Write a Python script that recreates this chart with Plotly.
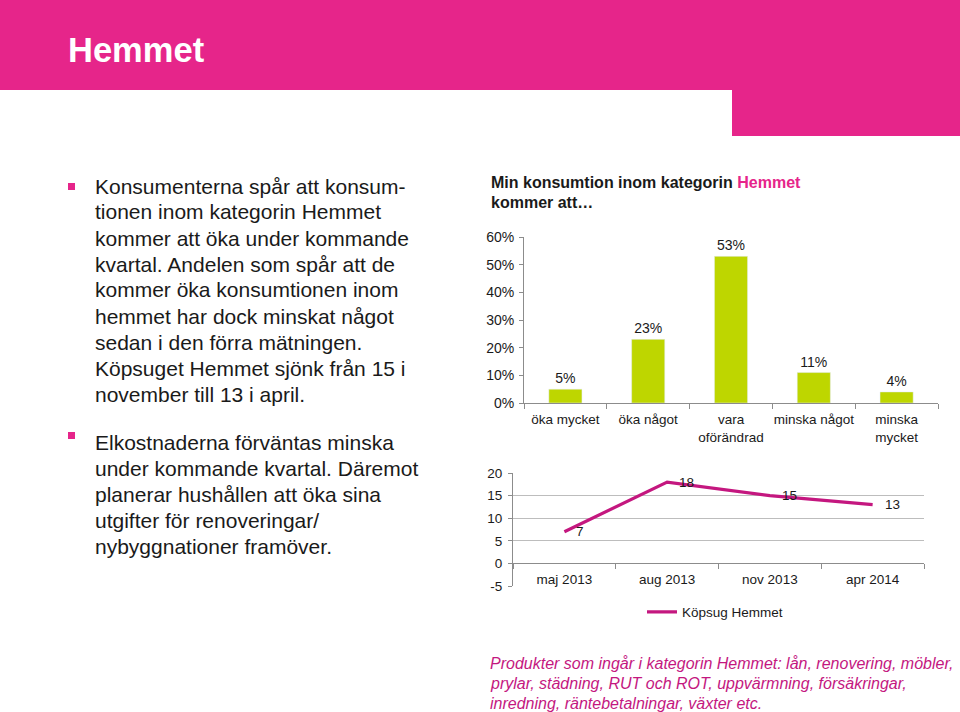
import plotly.graph_objects as go

# ---------------- data ----------------
bar_categories = ["öka mycket", "öka något", "vara<br>oförändrad", "minska något", "minska<br>mycket"]
bar_values = [5, 23, 53, 11, 4]
bar_tickvals = [0, 10, 20, 30, 40, 50, 60]
bar_ticktext = ["0%", "10%", "20%", "30%", "40%", "50%", "60%"]

line_periods = ["maj 2013", "aug 2013", "nov 2013", "apr 2014"]
line_values = [7, 18, 15, 13]
line_name = "Köpsug Hemmet"
line_tickvals = [-5, 0, 5, 10, 15, 20]
line_ticktext = ["-5", "0", "5", "10", "15", "20"]

page_title = "Hemmet"
bullet1 = ["Konsumenterna spår att konsum-", "tionen inom kategorin Hemmet",
           "kommer att öka under kommande", "kvartal. Andelen som spår att de",
           "kommer öka konsumtionen inom", "hemmet har dock minskat något",
           "sedan i den förra mätningen.", "Köpsuget Hemmet sjönk från 15 i",
           "november till 13 i april."]
bullet2 = ["Elkostnaderna förväntas minska", "under kommande kvartal. Däremot",
           "planerar hushållen att öka sina", "utgifter för renoveringar/",
           "nybyggnationer framöver."]
footnote = ["Produkter som ingår i kategorin Hemmet: lån, renovering, möbler,",
            "prylar, städning, RUT och ROT, uppvärmning, försäkringar,",
            "inredning, räntebetalningar, växter etc."]

# ---------------- style ----------------
W, H = 960, 712
PINK = "#E6258A"
MAGENTA = "#C4177F"
GREEN = "#BED600"
TXT = "#1a1a1a"
AX = "#8c8c8c"
GRID = "#bdbdbd"
FONT = "Liberation Sans, Arial, sans-serif"

def px(x):
    return x / W

def py(y):
    return 1 - y / H

fig = go.Figure()

# bar chart
fig.add_trace(go.Bar(
    x=bar_categories, y=bar_values, marker_color=GREEN,
    text=[f"{v}%" for v in bar_values], textposition="outside",
    textfont=dict(size=14, color=TXT, family=FONT), cliponaxis=False,
    showlegend=False, xaxis="x", yaxis="y", hoverinfo="skip"))

# line chart
fig.add_trace(go.Scatter(
    x=line_periods, y=line_values, mode="lines", name=line_name,
    line=dict(color=MAGENTA, width=3.2), xaxis="x2", yaxis="y2",
    showlegend=True, hoverinfo="skip"))

y2dom = [py(586), py(473)]
x_at_zero = y2dom[0] + (0 - (-5)) / 25 * (y2dom[1] - y2dom[0])

fig.update_layout(
    width=W, height=H, margin=dict(l=0, r=0, t=0, b=0, pad=0, autoexpand=False),
    paper_bgcolor="white", plot_bgcolor="rgba(0,0,0,0)",
    font=dict(family=FONT, color=TXT, size=13),
    bargap=0.6,
    xaxis=dict(domain=[px(524), px(938)], anchor="y", range=[-0.5, 4.5],
               showline=True, linecolor=AX, linewidth=1, ticks="outside", ticklen=5,
               tickcolor=AX, tickangle=0, tickson="boundaries", showgrid=False,
               tickfont=dict(size=13.5, color=TXT), ticklabelstandoff=4,
               automargin=False),
    yaxis=dict(domain=[py(403), py(237)], anchor="x", range=[0, 60],
               tickvals=bar_tickvals, ticktext=bar_ticktext, showline=True,
               linecolor=AX, ticks="outside", ticklen=4, tickcolor=AX,
               showgrid=False, zeroline=False, tickfont=dict(size=14, color=TXT),
               ticklabelstandoff=2, automargin=False),
    xaxis2=dict(domain=[px(513), px(924)], anchor="free", position=x_at_zero,
                range=[-0.5, 3.5], showline=True, linecolor=AX, ticks="outside",
                ticklen=5, tickcolor=AX, tickangle=0, tickson="boundaries",
                showgrid=False, tickfont=dict(size=13.5, color=TXT),
                ticklabelstandoff=3, automargin=False),
    yaxis2=dict(domain=y2dom, anchor="x2", range=[-5, 20], tickvals=line_tickvals,
                ticktext=line_ticktext,
                showline=True, linecolor=AX, ticks="outside", ticklen=4, tickcolor=AX,
                showgrid=True, gridcolor=GRID, gridwidth=1, zeroline=False,
                tickfont=dict(size=13.5, color=TXT), ticklabelstandoff=3,
                automargin=False),
    legend=dict(x=px(642), y=py(612), xanchor="left", yanchor="middle",
                orientation="h", font=dict(size=13.5, color=TXT),
                bgcolor="rgba(0,0,0,0)"),
)

shapes = [
    dict(type="rect", xref="paper", yref="paper", x0=0, x1=1, y0=py(90), y1=1,
         fillcolor=PINK, line_width=0, layer="below"),
    dict(type="rect", xref="paper", yref="paper", x0=px(732), x1=1, y0=py(136), y1=py(89),
         fillcolor=PINK, line_width=0, layer="below"),
    dict(type="rect", xref="paper", yref="paper", x0=px(68), x1=px(75), y0=py(190), y1=py(183),
         fillcolor=PINK, line_width=0),
    dict(type="rect", xref="paper", yref="paper", x0=px(68), x1=px(75), y0=py(439), y1=py(432),
         fillcolor=PINK, line_width=0),
]
fig.update_layout(shapes=shapes)

ann = []
ann.append(dict(text=f"<b>{page_title}</b>", x=px(66), y=py(50), xref="paper", yref="paper",
                xanchor="left", yanchor="middle", showarrow=False,
                font=dict(size=34.5, color="white", family=FONT)))
for start, lines in ((186, bullet1), (442, bullet2)):
    for i, line in enumerate(lines):
        ann.append(dict(text=line, x=px(93), y=py(start + 26 * i), xref="paper",
                        yref="paper", xanchor="left", yanchor="middle", align="left",
                        showarrow=False, font=dict(size=21, color=TXT, family=FONT)))
ann.append(dict(text=f"<b>Min konsumtion inom kategorin <span style='color:{PINK}'>Hemmet</span></b>",
                x=px(489), y=py(182), xref="paper", yref="paper",
                xanchor="left", yanchor="middle", align="left", showarrow=False,
                font=dict(size=16, color=TXT, family=FONT)))
ann.append(dict(text="<b>kommer att…</b>",
                x=px(489), y=py(202), xref="paper", yref="paper",
                xanchor="left", yanchor="middle", align="left", showarrow=False,
                font=dict(size=16, color=TXT, family=FONT)))
for i, line in enumerate(footnote):
    ann.append(dict(text=f"<i>{line}</i>", x=px(488), y=py(663 + 20 * i),
                    xref="paper", yref="paper", xanchor="left", yanchor="middle",
                    align="left", showarrow=False,
                    font=dict(size=16, color=MAGENTA, family=FONT)))
for cat, v in zip(line_periods, line_values):
    ann.append(dict(text=str(v), x=cat, y=v, xref="x2", yref="y2", xanchor="left",
                    yanchor="middle", xshift=10, showarrow=False,
                    font=dict(size=13.5, color=TXT, family=FONT)))
fig.update_layout(annotations=ann)

fig.write_html("out.html", config={"displayModeBar": False, "staticPlot": True},
               post_script="document.body.style.margin='0';document.body.style.padding='0';")
